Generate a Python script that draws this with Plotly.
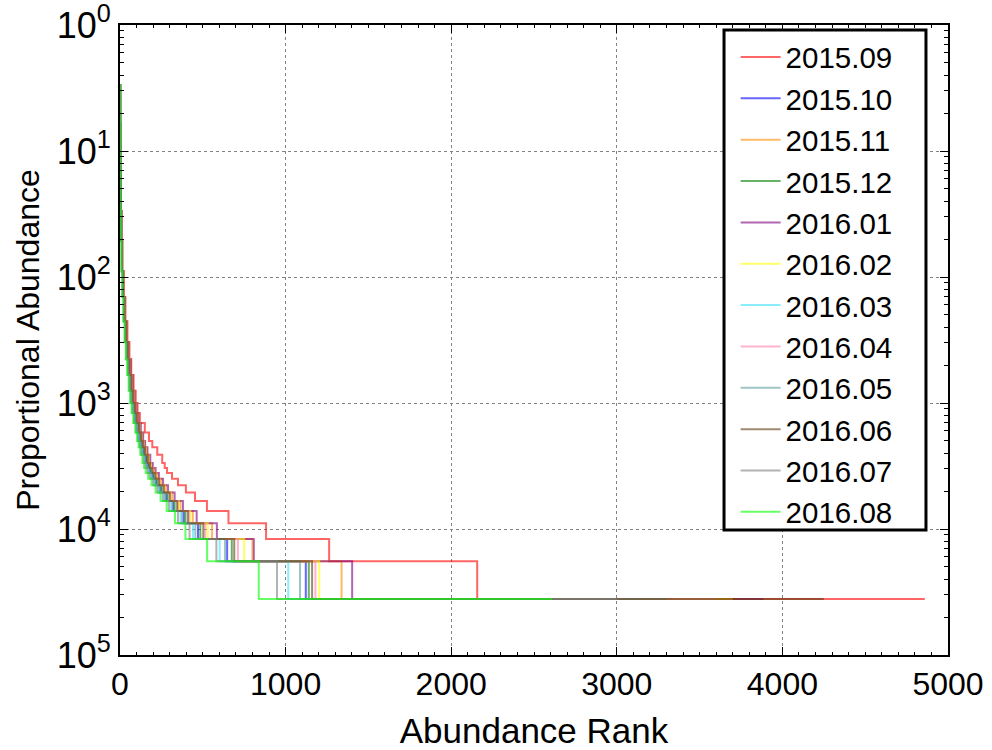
import plotly.graph_objects as go

# Sampling months, one rank-abundance curve each
months = ["2015.09", "2015.10", "2015.11", "2015.12", "2016.01", "2016.02",
          "2016.03", "2016.04", "2016.05", "2016.06", "2016.07", "2016.08"]

line_colors = ["rgb(255,0,0)", "rgb(0,0,255)", "rgb(255,140,0)", "rgb(0,128,0)",
               "rgb(128,0,128)", "rgb(255,255,0)", "rgb(60,225,255)", "rgb(255,130,170)",
               "rgb(95,158,160)", "rgb(95,60,15)", "rgb(128,128,128)", "rgb(0,255,0)"]

# Reads per rarefied sample
read_depth = 36000

# Read counts at which each curve steps down (most abundant first)
count_ladder = [12000, 6000, 2500, 1200, 700, 400, 250, 160, 110, 80, 60, 45, 36, 30,
                25, 21, 18, 16, 14, 12, 11, 10, 9, 8, 7, 6, 5, 4, 3, 2, 1]

# First abundance rank holding each count of the ladder
rank_2015_09 = [0, 1, 3, 6, 10, 15, 23, 33, 45, 57, 68, 82, 95, 106, 120, 150, 175, 195,
                225, 255, 270, 284, 314, 350, 398, 453, 525, 655, 882, 1263, 2157]
rank_2015_10 = [0, 1, 2, 4, 7, 12, 18, 26, 35, 45, 55, 65, 75, 85, 95, 108, 120, 130,
                142, 156, 168, 180, 198, 218, 245, 280, 322, 385, 471, 647, 1122]
rank_2015_11 = [0, 1, 2, 4, 8, 13, 20, 29, 39, 50, 62, 73, 84, 95, 107, 121, 135, 147,
                160, 176, 190, 206, 226, 250, 278, 316, 365, 440, 556, 800, 1338]
rank_2015_12 = [0, 1, 2, 4, 7, 12, 18, 27, 36, 46, 56, 67, 77, 88, 98, 111, 124, 134,
                146, 161, 174, 188, 204, 225, 252, 287, 330, 395, 485, 675, 1140]
rank_2016_01 = [0, 1, 2, 4, 8, 13, 20, 30, 40, 52, 64, 76, 87, 99, 111, 126, 140, 152,
                166, 183, 198, 215, 235, 260, 290, 330, 380, 463, 585, 808, 1402]
rank_2016_02 = [0, 1, 2, 4, 7, 12, 19, 28, 38, 49, 60, 71, 82, 93, 104, 118, 131, 143,
                156, 172, 186, 201, 220, 242, 270, 308, 355, 425, 530, 750, 1203]
rank_2016_03 = [0, 1, 2, 4, 6, 11, 16, 23, 31, 40, 49, 59, 68, 78, 88, 101, 112, 122,
                133, 147, 158, 172, 188, 208, 233, 266, 305, 365, 441, 602, 1016]
rank_2016_04 = [0, 1, 2, 4, 7, 12, 19, 28, 38, 49, 60, 71, 81, 92, 103, 117, 130, 142,
                154, 170, 184, 199, 218, 240, 268, 305, 350, 418, 515, 712, 1180]
rank_2016_05 = [0, 1, 2, 4, 7, 11, 17, 24, 33, 42, 51, 61, 71, 81, 91, 104, 116, 126,
                137, 151, 163, 177, 193, 213, 240, 273, 315, 375, 455, 634, 1087]
rank_2016_06 = [0, 1, 2, 4, 7, 12, 19, 28, 38, 48, 59, 70, 80, 91, 102, 116, 129, 140,
                152, 168, 181, 196, 214, 236, 264, 300, 345, 410, 503, 690, 1160]
rank_2016_07 = [0, 1, 2, 3, 6, 10, 15, 22, 30, 38, 47, 56, 65, 74, 84, 97, 108, 118,
                128, 142, 153, 165, 180, 200, 226, 258, 295, 350, 420, 582, 948]
rank_2016_08 = [0, 1, 2, 3, 5, 9, 14, 20, 27, 35, 43, 52, 61, 70, 80, 92, 103, 112,
                122, 135, 145, 155, 170, 190, 215, 245, 282, 332, 395, 526, 838]

# Number of taxa observed (rank of the last singleton)
richness = [4860, 3450, 3730, 3550, 3885, 3700, 3150, 3600, 3300, 4250, 3000, 2610]

ranks = [rank_2015_09, rank_2015_10, rank_2015_11, rank_2015_12, rank_2016_01,
         rank_2016_02, rank_2016_03, rank_2016_04, rank_2016_05, rank_2016_06,
         rank_2016_07, rank_2016_08]

y_tick_values = [1, 1e-1, 1e-2, 1e-3, 1e-4, 1e-5]
y_tick_labels = ["10<sup>0</sup>", "10<sup>1</sup>", "10<sup>2</sup>",
                 "10<sup>3</sup>", "10<sup>4</sup>", "10<sup>5</sup>"]
x_tick_values = [0, 1000, 2000, 3000, 4000, 5000]

fig = go.Figure()
for name, color, r, n_taxa in zip(months, line_colors, ranks, richness):
    xs = list(r) + [n_taxa]
    ys = [c / read_depth for c in count_ladder] + [1 / read_depth]
    fig.add_trace(go.Scatter(
        x=xs, y=ys, name=name, mode="lines",
        line=dict(color=color, width=2, shape="hv"),
        opacity=0.6,
    ))

y_minor = [m * 10.0 ** e for e in range(-5, 0) for m in range(2, 10)]

font_family = "Liberation Sans, Arial, sans-serif"

# Framed, white legend panel in the upper right of the axes
fig.add_shape(
    type="rect", xref="paper", yref="paper",
    x0=0.7295, x1=0.9734, y0=0.1984, y1=0.9921,
    line=dict(color="black", width=3), fillcolor="white", layer="above",
)

fig.update_layout(
    width=992, height=750,
    margin=dict(l=120, r=44, t=25, b=95, autoexpand=False),
    paper_bgcolor="white", plot_bgcolor="white",
    font=dict(family=font_family, color="black"),
    showlegend=True,
    legend=dict(
        x=0.7435, y=0.990, xanchor="left", yanchor="top",
        bgcolor="rgba(0,0,0,0)", borderwidth=0,
        font=dict(size=29.5, family=font_family),
        itemwidth=40,
        tracegroupgap=0,
        maxheight=700,
    ),
)

fig.update_xaxes(
    range=[0, 5000], tickvals=x_tick_values, automargin=False,
    ticklabeloverflow="allow",
    ticks="inside", ticklen=8, tickwidth=1, tickcolor="black",
    showline=True, linecolor="black", linewidth=2, mirror="allticks",
    showgrid=True, gridcolor="rgb(130,130,130)", griddash="dot", gridwidth=1,
    zeroline=False,
    tickfont=dict(size=32),
    title=dict(text="Abundance Rank", font=dict(size=35), standoff=22),
    minor=dict(dtick=100, ticks="inside", ticklen=3, tickcolor="black", showgrid=False),
)

fig.update_yaxes(
    type="log", range=[-5, 0], automargin=False,
    ticklabeloverflow="allow",
    tickvals=y_tick_values, ticktext=y_tick_labels,
    ticks="inside", ticklen=8, tickwidth=1, tickcolor="black",
    showline=True, linecolor="black", linewidth=2, mirror="allticks",
    showgrid=True, gridcolor="rgb(130,130,130)", griddash="dot", gridwidth=1,
    zeroline=False,
    tickfont=dict(size=36),
    title=dict(text="Proportional Abundance", font=dict(size=32), standoff=8),
    minor=dict(tickvals=y_minor, ticks="inside", ticklen=4, tickcolor="black", showgrid=False),
)

fig.write_html("out.html")
